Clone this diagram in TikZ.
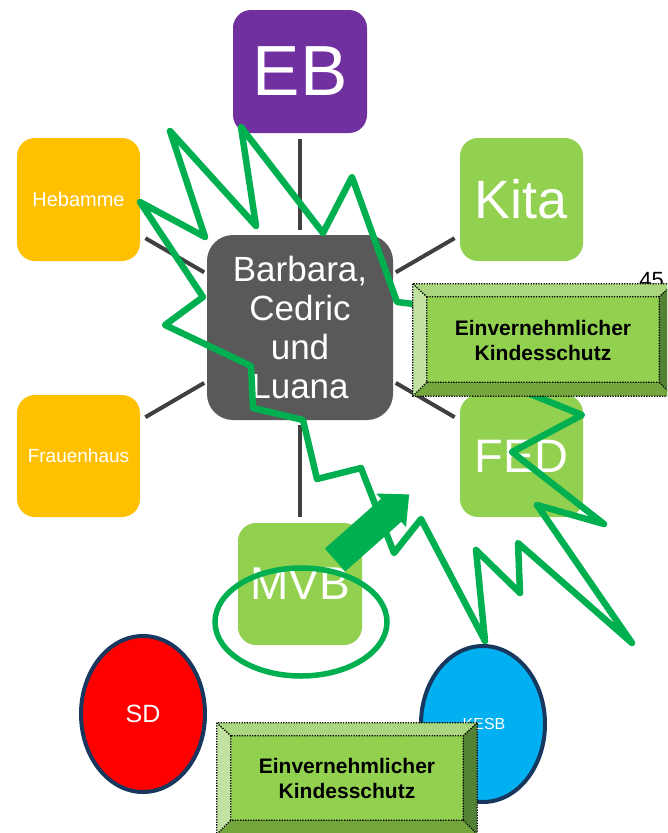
\documentclass[tikz,border=0pt]{standalone}
\usepackage{fontspec}
\setmainfont{Liberation Sans}
\usetikzlibrary{calc}
\definecolor{ebpurple}{HTML}{7030A0}
\definecolor{orangebox}{HTML}{FFC000}
\definecolor{greenbox}{HTML}{92D050}
\definecolor{centergray}{HTML}{595959}
\definecolor{linkgray}{HTML}{404040}
\definecolor{zig}{HTML}{00B050}
\definecolor{sdred}{HTML}{FF0000}
\definecolor{kesbblue}{HTML}{00B0F0}
\definecolor{navy}{HTML}{17375E}
\definecolor{bevtopc}{HTML}{A9D67E}
\definecolor{bevleftc}{HTML}{C3E2A2}
\definecolor{bevrightc}{HTML}{548235}
\definecolor{bevbottomc}{HTML}{75A53D}
\newcommand\bevelize[1]{%
  \coordinate (#1-a) at (#1.north west);
  \coordinate (#1-b) at (#1.north east);
  \coordinate (#1-c) at (#1.south east);
  \coordinate (#1-d) at (#1.south west);
  \coordinate (#1-A) at ($(#1.north west)+(14,13)$);
  \coordinate (#1-B) at ($(#1.north east)+(-14,13)$);
  \coordinate (#1-C) at ($(#1.south east)+(-14,-14)$);
  \coordinate (#1-D) at ($(#1.south west)+(14,-14)$);
  \fill[bevtopc] (#1-a)--(#1-b)--(#1-B)--(#1-A)--cycle;
  \fill[bevrightc] (#1-b)--(#1-c)--(#1-C)--(#1-B)--cycle;
  \fill[bevbottomc] (#1-c)--(#1-d)--(#1-D)--(#1-C)--cycle;
  \fill[bevleftc] (#1-d)--(#1-a)--(#1-A)--(#1-D)--cycle;
  \draw[dotline] (#1-a) rectangle (#1-c) (#1-A) rectangle (#1-C)
    (#1-a)--(#1-A) (#1-b)--(#1-B) (#1-c)--(#1-C) (#1-d)--(#1-D);
}
\begin{document}
\begin{tikzpicture}[x=1pt,y=-1pt,
  box/.style={rounded corners=18pt, minimum width=123pt, minimum height=123pt,
    inner sep=0pt, text=white, align=center},
  link/.style={draw=linkgray, line width=4pt},
  zigline/.style={draw=zig, line width=6.5pt, line join=round, line cap=round},
  dotline/.style={draw=black, line width=1.3pt, dash pattern=on 1.3pt off 1.3pt},
  kbox/.style={fill=greenbox, minimum width=260pt, minimum height=112pt, inner sep=0pt,
    align=center, font=\bfseries\fontsize{21}{25}\selectfont},
]
\useasboundingbox (0,0) rectangle (667,833);
\clip (0,0) rectangle (667,833);

% boxes
\node[box, fill=ebpurple, minimum width=134pt, font=\fontsize{71}{71}\selectfont] (eb) at (300,71.5) {EB};
\node[box, fill=orangebox, font=\fontsize{20}{20}\selectfont] (heb) at (78.5,199.5) {Hebamme};
\node[box, fill=greenbox, font=\fontsize{54}{54}\selectfont] (kita) at (521.5,199.5) {Kita};
\node[box, fill=centergray, rounded corners=26pt, minimum width=186pt, minimum height=185pt,
  font=\fontsize{35}{39}\selectfont] (ctr) at (300,327.5) {Barbara,\\Cedric\\und\\Luana};
\node[box, fill=orangebox, minimum height=122pt, font=\fontsize{19}{19}\selectfont] (frau) at (78.5,456) {Frauenhaus};
\node[box, fill=greenbox, minimum height=122pt, font=\fontsize{47}{47}\selectfont] (fed) at (521.5,456) {FED};
\node[box, fill=greenbox, minimum width=124pt, minimum height=122pt, font=\fontsize{46}{46}\selectfont] (mvb) at (300,584) {MVB};

% connectors
\draw[link, shorten <=6pt, shorten >=5pt] (eb) -- (ctr);
\draw[link, shorten <=6pt, shorten >=3pt] (heb) -- (ctr);
\draw[link, shorten <=6pt, shorten >=3pt] (kita) -- (ctr);
\draw[link, shorten <=6pt, shorten >=3pt] (frau) -- (ctr);
\draw[link, shorten <=6pt, shorten >=3pt] (fed) -- (ctr);
\draw[link, shorten <=6pt, shorten >=5pt] (mvb) -- (ctr);

% SD and KESB
\draw[fill=sdred, draw=navy, line width=4pt] (143,714) ellipse [x radius=62, y radius=78];
\node[text=white, font=\fontsize{25}{25}\selectfont] (sd) at (143,714) {SD};
\draw[fill=kesbblue, draw=navy, line width=4pt] (483,724) ellipse [x radius=62, y radius=78];
\node[text=white, font=\fontsize{16}{16}\selectfont] (kesb) at (484,724) {KESB};

% ellipse round MVB
\draw[draw=zig, line width=5.5pt] (301,622) ellipse [x radius=86, y radius=54];

% zigzag explosion
\draw[zigline] (140,202) -- (205,237) -- (170,131) -- (256,226) -- (241,127) -- (323,233)
  -- (352,177) -- (397,302) -- (430,306) -- (508,385) -- (582,415) -- (512,452)
  -- (604,524) -- (537,505) -- (632,643) -- (518,543) -- (520,593) -- (476,550)
  -- (485,641) -- (421,519) -- (394,553) -- (361,468) -- (317,479) -- (303,420)
  -- (253,408) -- (251,366) -- (165,325) -- (203,297) -- cycle;

% slide number
\node[anchor=base east, font=\fontsize{22}{22}\selectfont, inner sep=0pt] (num) at (664,287) {45};

% bevel box 1
\node[kbox] (k1) at (543,340) {Einvernehmlicher\\Kindesschutz};
\bevelize{k1}

% block arrow
\begin{scope}[shift={(335,560)}, rotate=41.5]
\fill[zig] (0,-15.3) -- (75,-15.3) -- (75,-22.4) -- (99,0) -- (75,22.4) -- (75,15.3) -- (0,15.3) -- cycle;
\end{scope}

% bevel box 2
\node[kbox, minimum height=111pt] (k2) at (347,778.5) {Einvernehmlicher\\Kindesschutz};
\bevelize{k2}
\end{tikzpicture}
\end{document}
